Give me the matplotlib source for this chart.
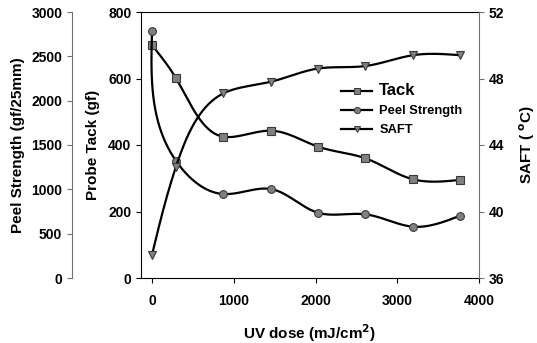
import numpy as np
import matplotlib.pyplot as plt
from matplotlib.lines import Line2D

plt.rcParams['font.family'] = ['Liberation Sans', 'DejaVu Sans']
plt.rcParams['font.weight'] = 'bold'

# 数据
uv_dose = [0, 290, 870, 1450, 2030, 2610, 3190, 3770]
tack = [700, 602, 425, 443, 395, 360, 297, 295]
peel = [2790, 1325, 947, 1004, 736, 718, 579, 703]
saft = [37.4, 42.65, 47.1, 47.8, 48.6, 48.75, 49.4, 49.4]

XLIM = (-135, 4000)
W, H = 338, 266  # 坐标轴像素大小


def natural_spline(t, y, ts):
    k = len(t)
    h = np.diff(t)
    A = np.zeros((k, k))
    b = np.zeros(k)
    A[0, 0] = A[-1, -1] = 1
    for i in range(1, k - 1):
        A[i, i - 1] = h[i - 1]
        A[i, i] = 2 * (h[i - 1] + h[i])
        A[i, i + 1] = h[i]
        b[i] = 6 * ((y[i + 1] - y[i]) / h[i] - (y[i] - y[i - 1]) / h[i - 1])
    M = np.linalg.solve(A, b)
    idx = np.clip(np.searchsorted(t, ts) - 1, 0, k - 2)
    t0, t1 = t[idx], t[idx + 1]
    hh = t1 - t0
    a0, a1 = t1 - ts, ts - t0
    return (M[idx] * a0 ** 3 + M[idx + 1] * a1 ** 3) / (6 * hh) \
        + (y[idx] / hh - M[idx] * hh / 6) * a0 \
        + (y[idx + 1] / hh - M[idx + 1] * hh / 6) * a1


# 参数样条（按屏幕上的弦长），画平滑曲线
def smooth(x, y, ylim, n=400):
    x = np.asarray(x, float)
    y = np.asarray(y, float)
    px = (x - XLIM[0]) / (XLIM[1] - XLIM[0]) * W
    py = (y - ylim[0]) / (ylim[1] - ylim[0]) * H
    d = np.hypot(np.diff(px), np.diff(py))
    t = np.concatenate([[0], np.cumsum(d)])
    ts = np.linspace(0, t[-1], n)
    sx = natural_spline(t, px, ts)
    sy = natural_spline(t, py, ts)
    return (sx / W * (XLIM[1] - XLIM[0]) + XLIM[0],
            sy / H * (ylim[1] - ylim[0]) + ylim[0])


fig = plt.figure(figsize=(5.37, 3.43), dpi=100)
ax = fig.add_axes([141 / 537, 65 / 343, W / 537, H / 343])
ax2 = ax.twinx()
ax3 = ax.twinx()

mk = dict(markersize=5.6, markerfacecolor='#808080', markeredgecolor='#3a3a3a',
          markeredgewidth=0.8, linestyle='none', zorder=5)
lw = 1.6

xs, ys = smooth(uv_dose, tack, (0, 800))
ax.plot(xs, ys, color='black', lw=lw)
ax.plot(uv_dose, tack, marker='s', **mk)

xs, ys = smooth(uv_dose, peel, (0, 3000))
ax2.plot(xs, ys, color='black', lw=lw)
ax2.plot(uv_dose, peel, marker='o', **mk)

xs, ys = smooth(uv_dose, saft, (36, 52))
ax3.plot(xs, ys, color='black', lw=lw)
ax3.plot(uv_dose, saft, marker='v', **mk)

# 主轴 (Probe Tack)
ax.set_xlim(*XLIM)
ax.set_ylim(0, 800)
ax.set_xticks([0, 1000, 2000, 3000, 4000])
ax.set_yticks([0, 200, 400, 600, 800])
ax.spines['right'].set_visible(False)
ax.tick_params(direction='out', length=3.5, labelsize=10)
ax.tick_params(axis='x', pad=8)
ax.set_ylabel('Probe Tack (gf)', fontsize=11, fontweight='bold')
ax.yaxis.set_label_coords((100 - 141) / W, 0.5)
ax.set_xlabel('UV dose (mJ/cm$^\\mathbf{2}$)', fontsize=11, fontweight='bold')
ax.xaxis.set_label_coords(0.5, (278 - 322) / H)

# 外侧左轴 (Peel Strength)
ax2.set_ylim(0, 3000)
ax2.set_yticks([0, 500, 1000, 1500, 2000, 2500, 3000])
ax2.yaxis.set_ticks_position('left')
ax2.yaxis.set_label_position('left')
for s in ['right', 'top', 'bottom']:
    ax2.spines[s].set_visible(False)
ax2.spines['left'].set_visible(True)
ax2.spines['left'].set_position(('axes', (72 - 141) / W))
ax2.spines['left'].set_color('#707070')
ax2.tick_params(direction='out', length=3.5, labelsize=10, color='#707070')
ax2.set_ylabel('Peel Strength (gf/25mm)', fontsize=11, fontweight='bold')
ax2.yaxis.set_label_coords((25 - 141) / W, 0.5)

# 右轴 (SAFT)
ax3.set_ylim(36, 52)
ax3.set_yticks([36, 40, 44, 48, 52])
for s in ['left', 'top', 'bottom']:
    ax3.spines[s].set_visible(False)
ax3.spines['right'].set_color('#707070')
ax3.tick_params(direction='out', length=3.5, labelsize=10, color='#707070')
ax3.set_ylabel('SAFT ( $^\\mathbf{o}$C)', fontsize=11, fontweight='bold')
ax3.yaxis.set_label_coords((517 - 141) / W, 0.5)

for a in (ax, ax2, ax3):
    for lab in a.get_xticklabels() + a.get_yticklabels():
        lab.set_fontweight('bold')

# 图例
hmk = dict(markersize=4.5, markerfacecolor='#808080', markeredgecolor='#3a3a3a',
           markeredgewidth=0.7, color='black', lw=lw)
handles = [Line2D([], [], marker='s', **hmk),
           Line2D([], [], marker='o', **hmk),
           Line2D([], [], marker='v', **hmk)]
leg = ax.legend(handles, ['Tack', 'Peel Strength', 'SAFT'], loc='upper left',
                bbox_to_anchor=((336 - 141) / W, (278 - 78) / H),
                frameon=False, fontsize=9.3, handlelength=2.4,
                handletextpad=0.55, labelspacing=0.55, borderaxespad=0)
leg.get_texts()[0].set_fontsize(12)
for t in leg.get_texts():
    t.set_fontweight('bold')
leg.set_zorder(10)

fig.savefig('out.png', dpi=100)
